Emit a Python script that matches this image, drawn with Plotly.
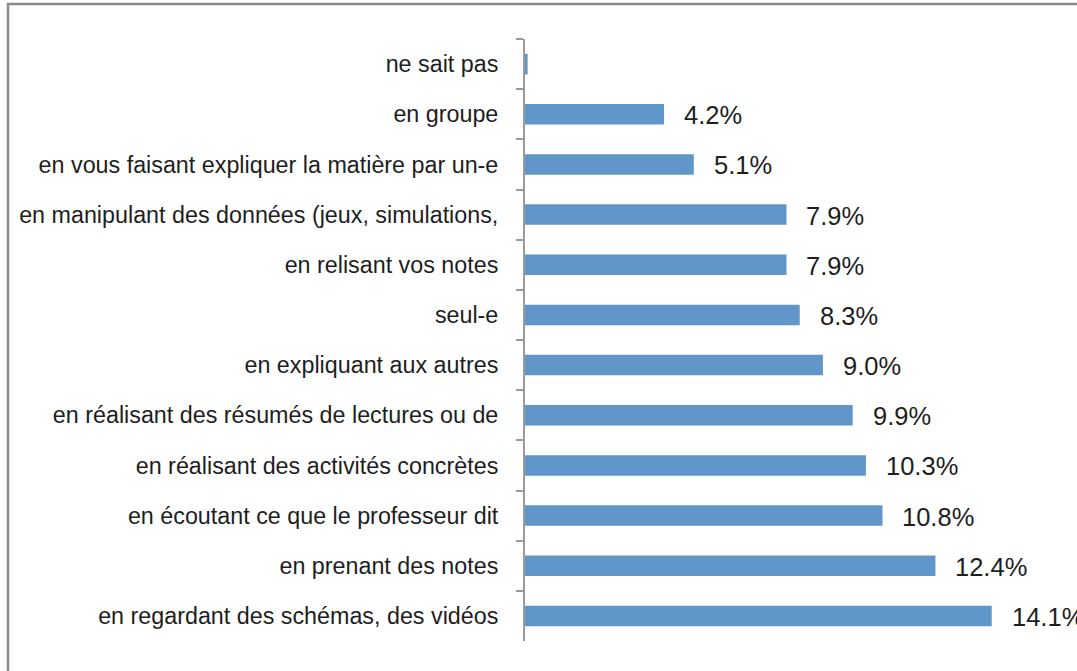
import plotly.graph_objects as go

# categories top to bottom, as shown
categories = [
    "ne sait pas",
    "en groupe",
    "en vous faisant expliquer la matière par un-e",
    "en manipulant des données (jeux, simulations,",
    "en relisant vos notes",
    "seul-e",
    "en expliquant aux autres",
    "en réalisant des résumés de lectures ou de",
    "en réalisant des activités concrètes",
    "en écoutant ce que le professeur dit",
    "en prenant des notes",
    "en regardant des schémas, des vidéos",
]
values = [0.08, 4.2, 5.1, 7.9, 7.9, 8.3, 9.0, 9.9, 10.3, 10.8, 12.4, 14.1]
value_labels = ["", "4.2%", "5.1%", "7.9%", "7.9%", "8.3%", "9.0%",
                "9.9%", "10.3%", "10.8%", "12.4%", "14.1%"]

W, H = 1077, 671
M_L, M_R, M_T, M_B = 525, 0, 39, 30
PX_PER_PCT = 33.1
BAR_COLOR = "#6196CB"
FONT = "Liberation Sans, Arial, sans-serif"

fig = go.Figure(go.Bar(
    x=values, y=categories, orientation="h",
    marker=dict(color=BAR_COLOR, line=dict(width=0)),
    width=0.41,
    hoverinfo="x+y",
))

for v, c, t in zip(values, categories, value_labels):
    if t:
        fig.add_annotation(x=v, y=c, text=t, showarrow=False,
                           xanchor="left", xshift=18, yshift=-1,
                           font=dict(family=FONT, size=25.5, color="#1e1e1e"))

# chart area border (top and left edges visible in the crop)
plot_w = W - M_L - M_R
plot_h = H - M_T - M_B
bx = (8 - M_L) / plot_w
by = (H - M_B - 4) / plot_h
fig.add_shape(type="path", xref="paper", yref="paper",
              path=f"M {bx} -0.2 L {bx} {by} L 1.2 {by}",
              line=dict(color="#8c8c8c", width=2.5))

fig.update_layout(
    width=W, height=H,
    margin=dict(l=M_L, r=M_R, t=M_T, b=M_B),
    paper_bgcolor="white", plot_bgcolor="white",
    showlegend=False,
    xaxis=dict(visible=False, range=[0, plot_w / PX_PER_PCT], fixedrange=True),
    yaxis=dict(
        autorange="reversed",
        showline=True, linecolor="#9a9a9a", linewidth=2,
        ticks="outside", tickson="boundaries", ticklen=7,
        tickcolor="#9a9a9a", tickwidth=2,
        ticklabelstandoff=20,
        showgrid=False, zeroline=False,
        tickfont=dict(family=FONT, size=23.3, color="#1e1e1e"),
    ),
    font=dict(family=FONT),
)

# drop the default page margin so the figure sits at the window's top-left
fig.write_html("out.html",
               config={"displayModeBar": False},
               post_script="document.body.style.margin='0';document.body.style.overflow='hidden';")
